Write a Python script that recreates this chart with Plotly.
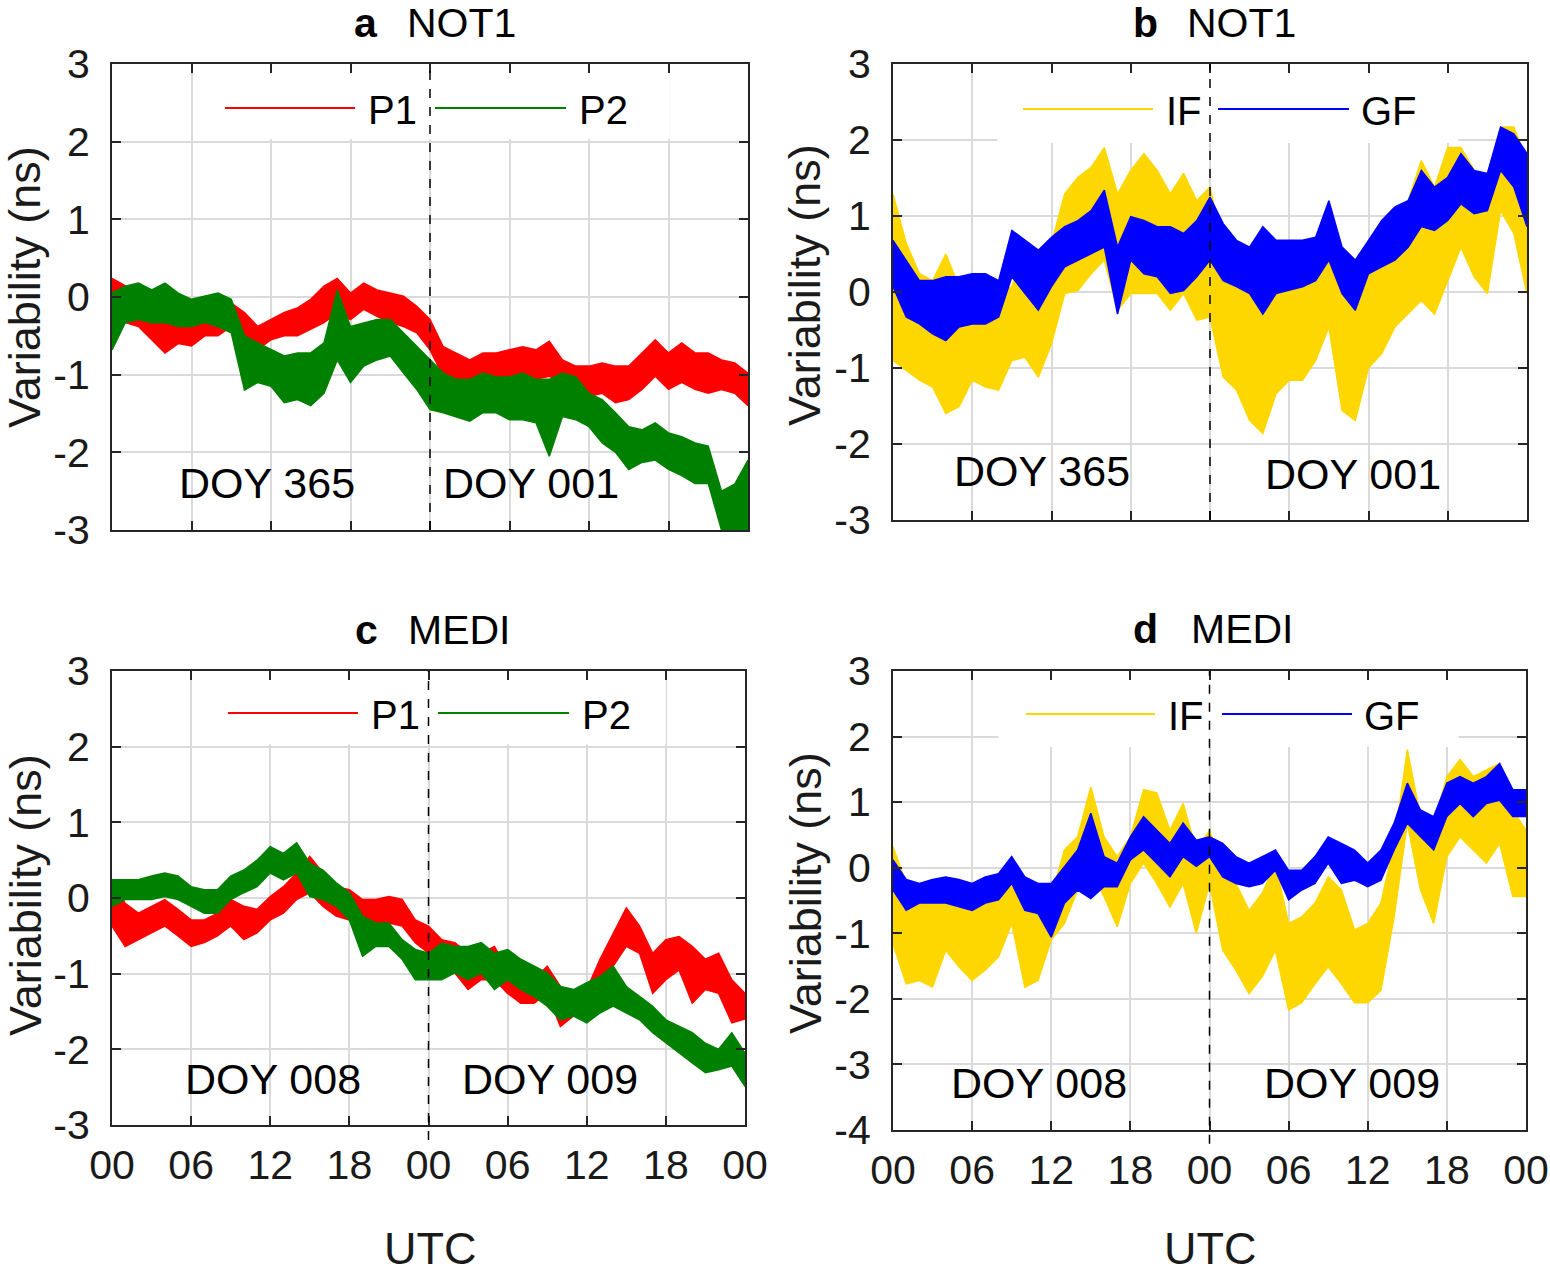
import plotly.graph_objects as go

# ---------------- data ----------------
HOURS = list(range(49))
X_TICK_VALS = [0, 6, 12, 18, 24, 30, 36, 42, 48]
X_TICK_TEXT = ["00", "06", "12", "18", "00", "06", "12", "18", "00"]
Y_TICKS_3 = [-3, -2, -1, 0, 1, 2, 3]
Y_TICKS_4 = [-4, -3, -2, -1, 0, 1, 2, 3]

# Panel a (NOT1): upper / lower envelope of the noisy series at each hour
A_P1_HI = [0.24, 0.14, 0.05, -0.12, -0.2, -0.2, -0.25, -0.2, -0.16, -0.08, -0.2, -0.38, -0.29, -0.2, -0.14, -0.03, 0.14, 0.24, 0.05, 0.18, 0.09, 0.05, 0.01, -0.12, -0.29,
           -0.64, -0.72, -0.81, -0.72, -0.72, -0.68, -0.64, -0.68, -0.57, -0.81, -0.89, -0.89, -0.85, -0.89, -0.89, -0.72, -0.55, -0.72, -0.59, -0.72, -0.72, -0.81, -0.85, -0.98]
A_P1_LO = [-0.38, -0.33, -0.38, -0.55, -0.72, -0.6, -0.63, -0.5, -0.5, -0.38, -0.64, -0.68, -0.55, -0.5, -0.5, -0.42, -0.33, -0.2, -0.29, -0.16, -0.25, -0.33, -0.38, -0.46, -0.68,
           -1.02, -1.15, -1.19, -1.1, -1.06, -1.06, -1.06, -1.06, -1.02, -1.1, -1.24, -1.28, -1.24, -1.36, -1.32, -1.19, -1.02, -1.19, -1.1, -1.19, -1.24, -1.19, -1.24, -1.4]
A_P2_HI = [0.05, 0.14, 0.18, 0.09, 0.18, 0.05, -0.03, 0.01, 0.05, -0.03, -0.5, -0.59, -0.68, -0.76, -0.72, -0.72, -0.59, 0.09, -0.38, -0.33, -0.29, -0.29, -0.46, -0.64, -0.81,
           -0.98, -1.06, -1.06, -0.98, -1.03, -1.03, -0.98, -1.06, -1.06, -0.98, -1.03, -1.24, -1.32, -1.49, -1.67, -1.71, -1.62, -1.75, -1.8, -1.88, -1.92, -2.5, -2.41, -2.1]
A_P2_LO = [-0.68, -0.33, -0.29, -0.33, -0.33, -0.38, -0.38, -0.33, -0.38, -0.46, -1.2, -1.1, -1.15, -1.36, -1.32, -1.4, -1.24, -0.81, -1.1, -0.89, -0.81, -0.76, -0.98, -1.19, -1.45,
           -1.49, -1.54, -1.6, -1.49, -1.49, -1.58, -1.58, -1.62, -2.05, -1.54, -1.58, -1.67, -1.88, -2.0, -2.22, -2.13, -2.1, -2.22, -2.3, -2.4, -2.4, -3.0, -3.0, -3.0]

# Panel b (NOT1): IF / GF
B_IF_HI = [1.29, 0.64, 0.24, 0.15, 0.5, 0.07, 0.07, 0.15, -0.02, 0.07, 0.59, 0.42, 0.64, 1.29, 1.51, 1.64, 1.9, 1.29, 1.6, 1.82, 1.6, 1.29, 1.56, 1.2, 1.38,
           0.64, 0.33, 0.33, 0.46, 0.24, 0.33, 0.42, 0.42, 0.59, -0.02, -0.2, 0.33, 0.77, 1.03, 1.2, 1.73, 1.38, 1.9, 1.9, 1.6, 1.51, 2.17, 2.17, 1.73]
B_IF_LO = [-0.9, -1.03, -1.16, -1.25, -1.6, -1.51, -1.16, -1.25, -1.29, -0.9, -0.86, -1.12, -0.68, -0.02, 0.02, 0.24, 0.42, -0.24, -0.02, -0.02, -0.02, -0.24, -0.02, -0.37, -0.33,
           -1.12, -1.29, -1.69, -1.86, -1.34, -1.16, -1.16, -0.9, -0.46, -1.56, -1.69, -1.0, -0.81, -0.46, -0.29, -0.11, -0.29, 0.15, 0.59, 0.2, -0.02, 1.07, 0.77, -0.02]
B_GF_HI = [0.68, 0.42, 0.15, 0.15, 0.2, 0.2, 0.24, 0.24, 0.15, 0.81, 0.68, 0.55, 0.72, 0.86, 0.94, 1.07, 1.34, 0.59, 0.99, 0.94, 0.86, 0.86, 0.77, 0.94, 1.25,
           0.9, 0.68, 0.59, 0.86, 0.68, 0.68, 0.68, 0.72, 1.2, 0.59, 0.42, 0.68, 0.94, 1.12, 1.2, 1.6, 1.38, 1.51, 1.82, 1.6, 1.56, 2.17, 2.08, 1.82]
B_GF_LO = [0.07, -0.33, -0.42, -0.55, -0.64, -0.46, -0.42, -0.42, -0.33, 0.2, -0.02, -0.24, 0.07, 0.33, 0.42, 0.5, 0.59, -0.29, 0.42, 0.24, 0.2, -0.02, 0.02, 0.2, 0.42,
           0.15, 0.07, -0.02, -0.29, -0.02, 0.02, 0.07, 0.15, 0.42, -0.02, -0.24, 0.24, 0.33, 0.42, 0.59, 0.86, 0.81, 0.94, 1.16, 1.03, 1.07, 1.6, 1.38, 0.86]

# Panel c (MEDI): P1 / P2
C_P1_HI = [0.2, -0.07, -0.2, -0.11, -0.02, -0.15, -0.29, -0.29, -0.2, -0.02, -0.11, -0.15, 0.02, 0.15, 0.33, 0.55, 0.33, 0.15, 0.11, -0.02, -0.02, 0.02, -0.02, -0.29, -0.37,
           -0.55, -0.59, -0.73, -0.73, -0.64, -0.95, -1.12, -1.08, -0.9, -1.17, -1.26, -1.21, -0.81, -0.46, -0.13, -0.37, -0.73, -0.55, -0.51, -0.64, -0.81, -0.73, -1.08, -1.26]
C_P1_LO = [-0.37, -0.64, -0.55, -0.46, -0.37, -0.5, -0.64, -0.59, -0.5, -0.37, -0.55, -0.46, -0.29, -0.2, -0.02, 0.07, -0.11, -0.24, -0.29, -0.37, -0.33, -0.33, -0.37, -0.59, -0.73,
           -0.95, -0.99, -1.21, -1.08, -1.08, -1.26, -1.39, -1.39, -1.26, -1.7, -1.56, -1.56, -1.3, -0.9, -0.64, -0.73, -1.26, -1.08, -0.95, -1.39, -1.21, -1.26, -1.65, -1.6]
C_P2_HI = [0.24, 0.24, 0.24, 0.29, 0.33, 0.29, 0.15, 0.11, 0.11, 0.29, 0.37, 0.5, 0.68, 0.59, 0.73, 0.46, 0.37, 0.2, 0.07, -0.24, -0.33, -0.33, -0.55, -0.68, -0.73,
           -0.6, -0.64, -0.64, -0.59, -0.73, -0.68, -0.81, -0.9, -0.99, -1.17, -1.21, -1.12, -1.04, -0.9, -1.17, -1.3, -1.43, -1.61, -1.7, -1.78, -1.92, -2.0, -1.78, -2.05]
C_P2_LO = [-0.11, -0.02, -0.02, -0.02, 0.02, -0.02, -0.11, -0.2, -0.2, -0.02, 0.07, 0.15, 0.33, 0.24, 0.33, 0.02, -0.02, -0.11, -0.29, -0.77, -0.64, -0.64, -0.81, -1.08, -1.08,
           -1.08, -0.99, -1.08, -0.99, -1.21, -1.08, -1.21, -1.3, -1.43, -1.61, -1.56, -1.65, -1.52, -1.43, -1.52, -1.61, -1.78, -1.92, -2.05, -2.18, -2.31, -2.27, -2.22, -2.49]

# Panel d (MEDI): IF / GF
D_IF_HI = [0.32, -0.24, -0.34, -0.39, -0.44, -0.34, -0.44, -0.24, -0.34, 0.17, -0.24, -0.34, -0.44, 0.27, 0.47, 1.23, 0.47, 0.17, 0.47, 1.19, 1.14, 0.57, 0.98, 0.27, 0.57,
           -0.04, -0.24, -0.65, -0.39, 0.07, -0.85, -0.75, -0.54, -0.14, -0.34, -0.95, -0.85, -0.54, 0.37, 1.8, 0.78, 0.68, 1.39, 1.65, 1.39, 1.49, 1.59, 0.88, 0.57]
D_IF_LO = [-1.16, -1.77, -1.72, -1.82, -1.26, -1.51, -1.72, -1.56, -1.36, -0.85, -1.82, -1.72, -1.1, -0.85, -0.34, -0.04, -0.44, -0.9, -0.24, 0.07, -0.24, -0.6, -0.24, -1.0, -0.24,
           -1.26, -1.56, -1.92, -1.66, -1.26, -2.17, -2.06, -1.77, -1.51, -1.77, -2.06, -2.06, -1.87, -0.75, 0.68, -0.34, -0.85, 0.17, 0.47, 0.27, 0.07, 0.37, -0.44, -0.44]
D_GF_HI = [0.12, -0.18, -0.24, -0.18, -0.14, -0.18, -0.24, -0.14, -0.09, 0.17, -0.14, -0.24, -0.24, 0.02, 0.27, 0.83, 0.17, 0.07, 0.47, 0.78, 0.57, 0.37, 0.68, 0.42, 0.47,
           0.37, 0.17, 0.07, 0.17, 0.27, -0.04, -0.04, 0.17, 0.47, 0.37, 0.27, 0.07, 0.27, 0.68, 1.29, 0.88, 0.78, 1.29, 1.39, 1.29, 1.39, 1.59, 1.19, 1.19]
D_GF_LO = [-0.34, -0.65, -0.54, -0.54, -0.54, -0.59, -0.65, -0.54, -0.49, -0.24, -0.65, -0.7, -1.06, -0.54, -0.34, -0.47, -0.29, -0.29, 0.12, 0.27, 0.07, -0.14, 0.17, 0.02, 0.17,
           -0.14, -0.24, -0.29, -0.24, -0.04, -0.49, -0.34, -0.24, 0.07, -0.24, -0.19, -0.29, -0.19, 0.27, 0.68, 0.47, 0.27, 0.78, 0.98, 0.78, 0.98, 1.03, 0.78, 0.78]

# ---------------- styling / layout helpers ----------------
FONT = "Liberation Sans, Arial, Helvetica, sans-serif"
RED, GREEN, GOLD, BLUE = "#ff0000", "#008000", "#ffd700", "#0000ff"
AXC = "#262626"
GRID = "#dadada"

W, H = 1550, 1274   # page body margin is removed after plotting (see post_script)
OFF = 0


def px(X):
    return (X - OFF) / W


def py(Y):
    return 1 - (Y - OFF) / H


def ribbon(hi, lo):
    return HOURS + HOURS[::-1], hi + lo[::-1]


fig = go.Figure()

panels = [
    # name, xaxis id, yaxis id, series list, x-domain px, y-domain px, yrange, yticks
    ("a", "x", "y", [(A_P1_HI, A_P1_LO, RED, "P1"), (A_P2_HI, A_P2_LO, GREEN, "P2")], (112, 748), (64, 530), (-3, 3), Y_TICKS_3),
    ("b", "x2", "y2", [(B_IF_HI, B_IF_LO, GOLD, "IF"), (B_GF_HI, B_GF_LO, BLUE, "GF")], (893, 1527), (64, 520), (-3, 3), Y_TICKS_3),
    ("c", "x3", "y3", [(C_P1_HI, C_P1_LO, RED, "P1"), (C_P2_HI, C_P2_LO, GREEN, "P2")], (112, 745), (671, 1125), (-3, 3), Y_TICKS_3),
    ("d", "x4", "y4", [(D_IF_HI, D_IF_LO, GOLD, "IF"), (D_GF_HI, D_GF_LO, BLUE, "GF")], (893, 1526), (671, 1130), (-4, 3), Y_TICKS_4),
]

for name, xa, ya, series, xd, yd, yr, yt in panels:
    for hi, lo, col, lab in series:
        rx, ry = ribbon(hi, lo)
        fig.add_trace(go.Scatter(x=rx, y=ry, mode="lines", fill="toself", fillcolor=col, name=lab,
                                 line=dict(color=col, width=1.5), xaxis=xa, yaxis=ya,
                                 showlegend=False, hoverinfo="skip"))
    xkey = "xaxis" if xa == "x" else "xaxis" + xa[1:]
    ykey = "yaxis" if ya == "y" else "yaxis" + ya[1:]
    bottom = name in ("c", "d")
    fig.layout[xkey] = dict(
        domain=[px(xd[0]), px(xd[1])], anchor=ya, range=[0, 48], automargin=False,
        tickmode="array", tickvals=X_TICK_VALS, ticktext=X_TICK_TEXT,
        showticklabels=bottom, ticks="inside", ticklen=9, tickwidth=1.5, tickcolor=AXC,
        showline=True, linecolor=AXC, linewidth=2, mirror="ticks",
        showgrid=True, gridcolor=GRID, gridwidth=1.5, zeroline=False,
        tickfont=dict(family=FONT, size=41, color="#1a1a1a"), ticklabelstandoff=3,
        ticklabeloverflow="allow",
    )
    fig.layout[ykey] = dict(
        domain=[py(yd[1]), py(yd[0])], anchor=xa, range=list(yr), automargin=False,
        tickmode="array", tickvals=yt, ticktext=[str(v) for v in yt],
        ticks="inside", ticklen=9, tickwidth=1.5, tickcolor=AXC,
        showline=True, linecolor=AXC, linewidth=2, mirror="ticks",
        showgrid=True, gridcolor=GRID, gridwidth=1.5, zeroline=False,
        tickfont=dict(family=FONT, size=41, color="#1a1a1a"), ticklabelstandoff=12,
    )

shapes = []
annotations = []

# legend background boxes (hide the grid behind the legend), in data coords of each panel
boxes = [("x", "y", 6.6, 42.1, 2.03), ("x2", "y2", 7.9, 42.8, 1.96),
         ("x3", "y3", 6.6, 42.0, 2.03), ("x4", "y4", 8.0, 42.9, 1.84)]
for xa, ya, x0, x1, y0 in boxes:
    shapes.append(dict(type="rect", xref=xa, yref=ya, x0=x0, x1=x1, y0=y0, y1=3,
                       fillcolor="white", line=dict(width=0), layer="between"))

# day boundary dashed lines
for xa, ya, ext in [("x", "y", 0), ("x2", "y2", 0), ("x3", "y3", 0.033), ("x4", "y4", 0.03)]:
    shapes.append(dict(type="line", xref=xa, yref=ya + " domain", x0=24, x1=24, y0=-ext, y1=1,
                       line=dict(color="black", width=1.5, dash="dash"), layer="above"))

# legends drawn manually (long line samples as in the original)
legend_items = [
    (225, 355, 108, RED, "P1", 366), (435, 566, 108, GREEN, "P2", 577),
    (1023, 1153, 109, GOLD, "IF", 1164), (1218, 1349, 109, BLUE, "GF", 1359),
    (228, 358, 713, RED, "P1", 369), (438, 569, 713, GREEN, "P2", 580),
    (1026, 1155, 714, GOLD, "IF", 1166), (1222, 1352, 714, BLUE, "GF", 1362),
]
for x0, x1, yy, col, lab, tx in legend_items:
    shapes.append(dict(type="line", xref="paper", yref="paper", x0=px(x0), x1=px(x1),
                       y0=py(yy), y1=py(yy), line=dict(color=col, width=2), layer="above"))
    annotations.append(dict(text=lab, x=px(tx), y=py(yy + 2), xref="paper", yref="paper",
                            xanchor="left", yanchor="middle", showarrow=False,
                            font=dict(family=FONT, size=40, color="black")))

# panel titles
titles = [("a", 366, "NOT1", 462, 23), ("b", 1145, "NOT1", 1241, 23),
          ("c", 366, "MEDI", 459, 630), ("d", 1145, "MEDI", 1242, 629)]
for letter, lx, word, wx, yy in titles:
    annotations.append(dict(text="<b>" + letter + "</b>", x=px(lx), y=py(yy), xref="paper", yref="paper",
                            xanchor="center", yanchor="middle", showarrow=False,
                            font=dict(family=FONT, size=41, color="black")))
    annotations.append(dict(text=word, x=px(wx), y=py(yy), xref="paper", yref="paper",
                            xanchor="center", yanchor="middle", showarrow=False,
                            font=dict(family=FONT, size=41, color="black")))

# DOY labels (data coordinates)
doys = [("x", "y", 11.7, -2.40, "DOY 365"), ("x", "y", 31.6, -2.39, "DOY 001"),
        ("x2", "y2", 11.26, -2.35, "DOY 365"), ("x2", "y2", 34.8, -2.40, "DOY 001"),
        ("x3", "y3", 12.2, -2.39, "DOY 008"), ("x3", "y3", 33.2, -2.39, "DOY 009"),
        ("x4", "y4", 11.07, -3.28, "DOY 008"), ("x4", "y4", 34.8, -3.28, "DOY 009")]
for xa, ya, xv, yv, txt in doys:
    annotations.append(dict(text=txt, x=xv, y=yv, xref=xa, yref=ya, xanchor="center", yanchor="middle",
                            showarrow=False, font=dict(family=FONT, size=43, color="black")))

# axis titles
for xx, yy in [(25, 287), (805, 285), (25, 895), (805, 893)]:
    annotations.append(dict(text="Variability (ns)", x=px(xx), y=py(yy), xref="paper", yref="paper",
                            xanchor="center", yanchor="middle", textangle=-90, showarrow=False,
                            font=dict(family=FONT, size=45, color="#1a1a1a")))
for xx in (430, 1210):
    annotations.append(dict(text="UTC", x=px(xx), y=py(1248), xref="paper", yref="paper",
                            xanchor="center", yanchor="middle", showarrow=False,
                            font=dict(family=FONT, size=45, color="#1a1a1a")))

fig.update_layout(
    template="none",
    width=W, height=H, margin=dict(l=0, r=0, t=0, b=0, pad=0),
    paper_bgcolor="white", plot_bgcolor="white",
    shapes=shapes, annotations=annotations, showlegend=False,
    font=dict(family=FONT),
)

fig.write_html("out.html", config={"displayModeBar": False},
               post_script="document.body.style.margin='0px';document.body.style.overflow='hidden';")
